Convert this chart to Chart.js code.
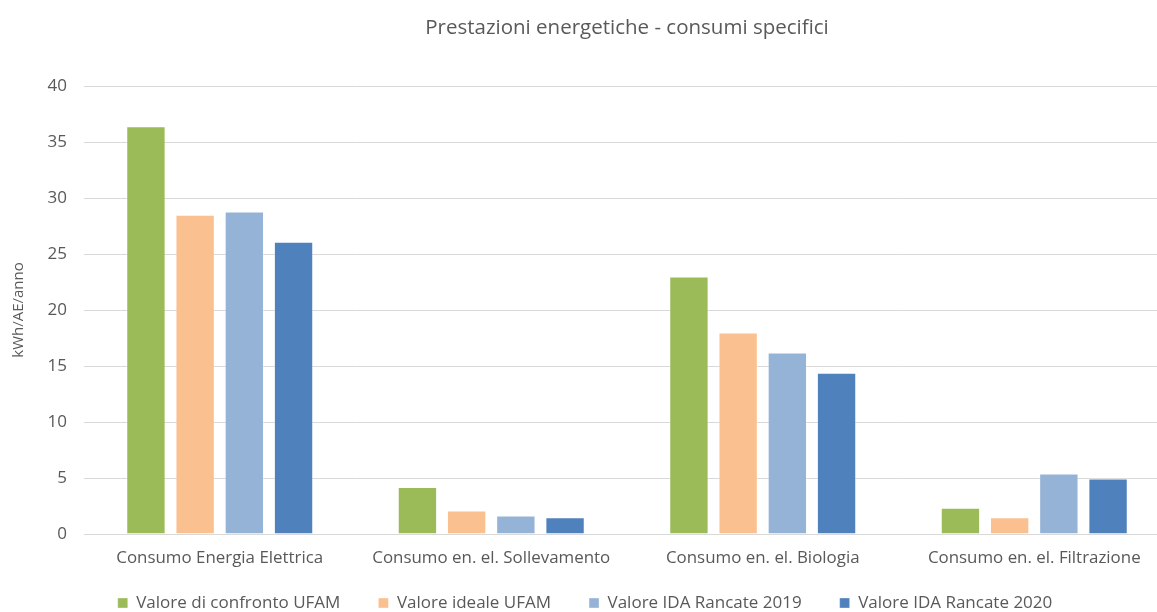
<!DOCTYPE html>
<html lang="it">
<head>
<meta charset="utf-8">
<title>Prestazioni energetiche - consumi specifici</title>
<script src="https://cdn.jsdelivr.net/npm/chart.js@4/dist/chart.umd.min.js"></script>
<style>
  html, body { margin: 0; padding: 0; background: #ffffff; overflow: hidden; }
  #wrap { width: 1157px; height: 612px; overflow: hidden; position: relative; }
  #box { width: 1174px; height: 612px; position: absolute; left: 0; top: 0; }
</style>
</head>
<body>
<div id="wrap"><div id="box"><canvas id="chart"></canvas></div></div>
<script>
// Categorie (asse X)
const categories = [
  'Consumo Energia Elettrica',
  'Consumo en. el. Sollevamento',
  'Consumo en. el. Biologia',
  'Consumo en. el. Filtrazione'
];

// Serie: kWh per abitante equivalente all'anno
const seriesNames = [
  'Valore di confronto UFAM',
  'Valore ideale UFAM',
  'Valore IDA Rancate 2019',
  'Valore IDA Rancate 2020'
];
const confrontoUFAM = [36.4, 4.2, 23.0, 2.35];
const idealeUFAM    = [28.5, 2.1, 18.0, 1.5];
const rancate2019   = [28.8, 1.65, 16.2, 5.4];
const rancate2020   = [26.1, 1.5, 14.4, 4.95];

// Asse Y
const yTicks = [0, 5, 10, 15, 20, 25, 30, 35, 40];
const yTitle = 'kWh/AE/anno';
const chartTitle = 'Prestazioni energetiche - consumi specifici';

const colors = ['#9BBB59', '#FAC090', '#95B3D7', '#4F81BD'];
const values = [confrontoUFAM, idealeUFAM, rancate2019, rancate2020];

const FONT = '"Open Sans", "Noto Sans", sans-serif';
const TEXT = '#595959';

// The legend keeps wide horizontal gaps between items; its box is stretched
// upwards a little so the gap padding does not eat into the plot height.
const legendLift = {
  id: 'legendLift',
  afterLayout(chart) {
    const lg = chart.legend;
    if (lg) { lg.top -= 11.5; lg.height = lg.bottom - lg.top; }
  }
};

new Chart(document.getElementById('chart'), {
  type: 'bar',
  data: {
    labels: categories,
    datasets: values.map((v, i) => ({
      label: seriesNames[i],
      data: v,
      backgroundColor: colors[i],
      borderColor: 'rgba(255,255,255,0.35)',
      borderWidth: 1,
      categoryPercentage: 0.725,
      barPercentage: 0.8
    }))
  },
  plugins: [legendLift],
  options: {
    responsive: true,
    maintainAspectRatio: false,
    animation: false,
    events: [],
    layout: { padding: { left: 0, right: 4, top: 0, bottom: 0 } },
    plugins: {
      title: {
        display: true,
        text: chartTitle,
        fullSize: false,
        color: TEXT,
        font: { family: FONT, size: 20.5, weight: 'normal' },
        padding: { top: 16, bottom: 45.4 }
      },
      legend: {
        position: 'bottom',
        maxHeight: 44,
        labels: {
          color: TEXT,
          font: { family: FONT, size: 17 },
          boxWidth: 10,
          boxHeight: 10,
          padding: 38
        }
      },
      tooltip: { enabled: false }
    },
    scales: {
      x: {
        grid: { display: false, drawTicks: false },
        border: { color: '#D9D9D9', width: 1 },
        ticks: { color: TEXT, font: { family: FONT, size: 16.9 }, padding: 14, maxRotation: 0, autoSkip: false },
        afterFit: (scale) => { scale.height = 34; }
      },
      y: {
        min: 0,
        max: 40,
        afterBuildTicks: (axis) => { axis.ticks = yTicks.map(v => ({ value: v })); },
        afterFit: (scale) => { scale.width = 84; },
        grid: { color: '#D9D9D9', lineWidth: 1, drawTicks: false },
        border: { display: false },
        ticks: { color: TEXT, font: { family: FONT, size: 17 }, padding: 17 },
        title: {
          display: true,
          text: yTitle,
          color: TEXT,
          font: { family: FONT, size: 15 },
          padding: { top: 10, bottom: 0 }
        }
      }
    }
  }
});
</script>
</body>
</html>
